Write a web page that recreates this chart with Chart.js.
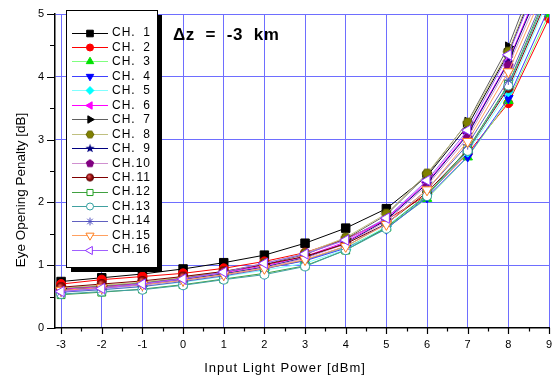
<!DOCTYPE html>
<html>
<head>
<meta charset="utf-8">
<script src="https://cdn.jsdelivr.net/npm/chart.js@4/dist/chart.umd.min.js"></script>
<style>
  html, body { margin: 0; padding: 0; background: #fff; }
  #c { display: block; }
</style>
</head>
<body>
<canvas id="c" width="558" height="377"></canvas>
<script>
// Input light power [dBm] for every measured point
const inputPower = [-3, -2, -1, 0, 1, 2, 3, 4, 5, 6, 7, 8, 9];

// Eye opening penalty [dB] per WDM channel
const ch1  = [0.74, 0.80, 0.86, 0.94, 1.04, 1.16, 1.35, 1.59, 1.90, 2.42, 3.22, 4.38, 6.00];
const ch2  = [0.70, 0.77, 0.82, 0.87, 0.95, 1.06, 1.20, 1.42, 1.72, 2.12, 2.78, 3.58, 4.93];
const ch3  = [0.62, 0.66, 0.71, 0.78, 0.86, 0.96, 1.08, 1.28, 1.60, 2.06, 2.72, 3.62, 5.00];
const ch4  = [0.60, 0.64, 0.69, 0.76, 0.85, 0.95, 1.07, 1.27, 1.58, 2.08, 2.73, 3.66, 5.10];
const ch5  = [0.57, 0.61, 0.66, 0.73, 0.82, 0.92, 1.03, 1.25, 1.62, 2.12, 2.80, 3.76, 5.25];
const ch6  = [0.62, 0.66, 0.71, 0.79, 0.88, 0.99, 1.14, 1.37, 1.74, 2.32, 3.10, 4.25, 5.80];
const ch7  = [0.63, 0.67, 0.72, 0.80, 0.89, 1.01, 1.17, 1.42, 1.80, 2.44, 3.28, 4.48, 6.15];
const ch8  = [0.64, 0.68, 0.73, 0.81, 0.90, 1.03, 1.19, 1.44, 1.82, 2.46, 3.27, 4.40, 6.05];
const ch9  = [0.60, 0.64, 0.69, 0.77, 0.86, 0.97, 1.12, 1.35, 1.72, 2.30, 3.08, 4.23, 5.75];
const ch10 = [0.59, 0.63, 0.68, 0.76, 0.85, 0.96, 1.11, 1.34, 1.70, 2.27, 3.03, 4.18, 5.65];
const ch11 = [0.65, 0.70, 0.75, 0.82, 0.90, 1.01, 1.14, 1.34, 1.66, 2.16, 2.83, 3.82, 5.30];
const ch12 = [0.53, 0.57, 0.62, 0.69, 0.78, 0.87, 0.99, 1.24, 1.60, 2.12, 2.85, 3.88, 5.40];
const ch13 = [0.54, 0.58, 0.61, 0.68, 0.77, 0.85, 0.98, 1.24, 1.58, 2.10, 2.82, 3.86, 5.35];
const ch14 = [0.57, 0.61, 0.66, 0.74, 0.83, 0.94, 1.08, 1.30, 1.66, 2.20, 2.92, 3.95, 5.45];
const ch15 = [0.60, 0.64, 0.69, 0.76, 0.85, 0.95, 1.09, 1.30, 1.65, 2.20, 2.97, 4.08, 5.55];
const ch16 = [0.58, 0.63, 0.70, 0.78, 0.89, 1.03, 1.18, 1.40, 1.75, 2.35, 3.15, 4.35, 5.95];

const channelNames = ['CH. 1', 'CH. 2', 'CH. 3', 'CH. 4', 'CH. 5', 'CH. 6', 'CH. 7', 'CH. 8',
                      'CH. 9', 'CH.10', 'CH.11', 'CH.12', 'CH.13', 'CH.14', 'CH.15', 'CH.16'];
const channels = [ch1, ch2, ch3, ch4, ch5, ch6, ch7, ch8, ch9, ch10, ch11, ch12, ch13, ch14, ch15, ch16];

const xTickValues = [-3, -2, -1, 0, 1, 2, 3, 4, 5, 6, 7, 8, 9];
const yTickValues = [0, 1, 2, 3, 4, 5];
const spanLabel = '\u0394z  =  -3  km';

// ---- custom marker bitmaps for shapes Chart.js has no built-in style for ----
function makeMarker(size, paint) {
  const cv = document.createElement('canvas');
  cv.width = size; cv.height = size;
  const c = cv.getContext('2d');
  c.translate(size / 2, size / 2);
  paint(c);
  return cv;
}
function polyPath(c, n, r, start) {
  c.beginPath();
  for (let k = 0; k < n; k++) {
    const a = start + k * 2 * Math.PI / n;
    const px = Math.cos(a) * r, py = Math.sin(a) * r;
    if (k === 0) c.moveTo(px, py); else c.lineTo(px, py);
  }
  c.closePath();
}
const hexMarker = makeMarker(12, c => {
  polyPath(c, 6, 5, 0);
  c.fillStyle = '#808000'; c.fill();
  c.strokeStyle = '#606000'; c.lineWidth = 1; c.stroke();
});
const starMarker = makeMarker(13, c => {
  c.beginPath();
  for (let k = 0; k < 10; k++) {
    const r = k % 2 === 0 ? 6 : 2.5;
    const a = -Math.PI / 2 + k * Math.PI / 5;
    const px = Math.cos(a) * r, py = Math.sin(a) * r;
    if (k === 0) c.moveTo(px, py); else c.lineTo(px, py);
  }
  c.closePath();
  c.fillStyle = '#000080'; c.fill();
});
const pentMarker = makeMarker(12, c => {
  polyPath(c, 5, 5, -Math.PI / 2);
  c.fillStyle = '#800080'; c.fill();
  c.strokeStyle = '#800080'; c.lineWidth = 1; c.stroke();
});
const ballMarker = makeMarker(12, c => {
  const g = c.createRadialGradient(-1.5, -1.5, 0.5, 0, 0, 5);
  g.addColorStop(0, '#e06060');
  g.addColorStop(0.5, '#a01010');
  g.addColorStop(1, '#500000');
  c.beginPath(); c.arc(0, 0, 5, 0, Math.PI * 2);
  c.fillStyle = g; c.fill();
});

// line colour, marker style, fill and edge for each channel
const looks = [
  { line: '#000000', style: 'rect',     rot: 0,   r: 6,   fill: '#000000', edge: '#000000' },
  { line: '#ff0000', style: 'circle',   rot: 0,   r: 4.5, fill: '#ff0000', edge: '#ff0000' },
  { line: '#80ff80', style: 'triangle', rot: 0,   r: 5.5, fill: '#00e000', edge: '#00e000' },
  { line: '#4040ff', style: 'triangle', rot: 180, r: 5.5, fill: '#0000ff', edge: '#0000ff' },
  { line: '#80ffff', style: 'rectRot',  rot: 0,   r: 5,   fill: '#00ffff', edge: '#00ffff' },
  { line: '#ff00ff', style: 'triangle', rot: 270, r: 5.5, fill: '#ff00ff', edge: '#ff00ff' },
  { line: '#606060', style: 'triangle', rot: 90,  r: 5.5, fill: '#000000', edge: '#000000' },
  { line: '#c0c080', style: hexMarker,  rot: 0,   r: 5,   fill: '#808000', edge: '#808000' },
  { line: '#000080', style: starMarker, rot: 0,   r: 5,   fill: '#000080', edge: '#000080' },
  { line: '#d090d0', style: pentMarker, rot: 0,   r: 5,   fill: '#800080', edge: '#800080' },
  { line: '#800000', style: ballMarker, rot: 0,   r: 5,   fill: '#800000', edge: '#800000' },
  { line: '#40a040', style: 'rect',     rot: 0,   r: 5.5, fill: '#ffffff', edge: '#20a020' },
  { line: '#40a0a0', style: 'circle',   rot: 0,   r: 4.5, fill: '#ffffff', edge: '#30a0a0' },
  { line: '#6060c0', style: 'star',     rot: 0,   r: 5,   fill: '#6060c0', edge: '#5050c0' },
  { line: '#ffa060', style: 'triangle', rot: 180, r: 6,   fill: '#ffffff', edge: '#ff8020' },
  { line: '#a060ff', style: 'triangle', rot: 270, r: 6,   fill: '#ffffff', edge: '#9030ff' }
];

const FONT = '"Liberation Sans", Arial, sans-serif';
const GRID_BLUE = '#6e6eff';

const datasets = channels.map((vals, i) => ({
  label: channelNames[i],
  data: vals.map((v, k) => ({ x: inputPower[k], y: v })),
  borderColor: looks[i].line,
  borderWidth: 1,
  pointStyle: looks[i].style,
  rotation: looks[i].rot,
  pointRadius: looks[i].r,
  pointBackgroundColor: looks[i].fill,
  pointBorderColor: looks[i].edge,
  pointBorderWidth: 1,
  tension: 0,
  order: channels.length - i
}));

// keep tick-label overhang from shifting the plot frame
function noScalePadding(s) {
  s.paddingLeft = 0; s.paddingRight = 0; s.paddingTop = 0; s.paddingBottom = 0;
}

// axis tick marks (major + half-step minor), titles, span label and the boxed legend
const decorations = {
  id: 'decorations',
  afterDraw(chart) {
    const { ctx, chartArea: a, scales } = chart;
    const xs = scales.x, ys = scales.y;
    ctx.save();
    ctx.strokeStyle = '#000';
    ctx.lineWidth = 1.2;
    ctx.beginPath();
    for (let v = -3; v <= 9.001; v += 0.5) {
      const px = Math.round(xs.getPixelForValue(v)) + 0.5;
      const major = Math.abs(v - Math.round(v)) < 1e-6;
      ctx.moveTo(px, a.bottom);
      ctx.lineTo(px, a.bottom + (major ? 6 : 3.5));
    }
    for (let v = 0; v <= 5.001; v += 0.5) {
      const py = Math.round(ys.getPixelForValue(v)) + 0.5;
      const major = Math.abs(v - Math.round(v)) < 1e-6;
      ctx.moveTo(a.left, py);
      ctx.lineTo(a.left - (major ? 8 : 5), py);
    }
    ctx.stroke();

    // axis titles
    ctx.fillStyle = '#000';
    ctx.font = '13px ' + FONT;
    ctx.letterSpacing = '1px';
    ctx.textAlign = 'center';
    ctx.textBaseline = 'middle';
    ctx.fillText('Input Light Power [dBm]', 285, 368);
    ctx.save();
    ctx.translate(21, 190);
    ctx.rotate(-Math.PI / 2);
    ctx.letterSpacing = '0px';
    ctx.font = '13.5px ' + FONT;
    ctx.fillText('Eye Opening Penalty [dB]', 0, 0);
    ctx.restore();

    // fiber span annotation
    ctx.font = 'bold 17px ' + FONT;
    ctx.letterSpacing = '0.6px';
    ctx.textAlign = 'left';
    ctx.fillText(spanLabel, 173, 35);

    // legend box with drop shadow
    const bx = 66, by = 10, bw = 91, bh = 257;
    ctx.fillStyle = '#000';
    ctx.fillRect(bx + 5, by + 5, bw, bh);
    ctx.fillStyle = '#fff';
    ctx.fillRect(bx, by, bw, bh);
    ctx.strokeStyle = '#000';
    ctx.lineWidth = 1;
    ctx.strokeRect(bx + 0.5, by + 0.5, bw, bh);

    const rowH = 14.47;
    looks.forEach((lk, i) => {
      const y = 32.5 + i * rowH;
      ctx.strokeStyle = lk.line;
      ctx.lineWidth = 1;
      ctx.beginPath();
      ctx.moveTo(72, Math.round(y) + 0.5);
      ctx.lineTo(108, Math.round(y) + 0.5);
      ctx.stroke();
      if (typeof lk.style === 'string') {
        ctx.fillStyle = lk.fill;
        ctx.strokeStyle = lk.edge;
        Chart.helpers.drawPoint(ctx, {
          pointStyle: lk.style, rotation: lk.rot, radius: lk.r * 0.78, borderWidth: 1
        }, 90, Math.round(y) + 0.5);
      } else {
        const w = lk.style.width * 0.8;
        ctx.drawImage(lk.style, 90 - w / 2, Math.round(y) + 0.5 - w / 2, w, w);
      }
      const name = channelNames[i];
      ctx.fillStyle = '#000';
      ctx.font = '12px ' + FONT;
      ctx.letterSpacing = '1px';
      ctx.textBaseline = 'middle';
      ctx.textAlign = 'left';
      ctx.fillText('CH.', 112, y + 0.5);
      ctx.textAlign = 'right';
      ctx.fillText(name.slice(3).trim(), 151, y + 0.5);
    });
    ctx.restore();
  }
};

new Chart(document.getElementById('c'), {
  type: 'line',
  data: { datasets },
  plugins: [decorations],
  options: {
    responsive: false,
    animation: false,
    events: [],
    layout: { padding: { left: 0, right: 9, top: 14, bottom: 0 } },
    plugins: { legend: { display: false }, tooltip: { enabled: false } },
    scales: {
      x: {
        type: 'linear',
        min: -3.15,
        max: 9,
        afterBuildTicks: s => { s.ticks = xTickValues.map(v => ({ value: v })); },
        afterFit: s => { s.height = 49; noScalePadding(s); },
        ticks: {
          font: { family: FONT, size: 11 },
          color: '#000',
          padding: 10,
          maxRotation: 0,
          autoSkip: false
        },
        grid: { color: GRID_BLUE, lineWidth: 1, drawTicks: false },
        border: { color: '#000', width: 1.5 }
      },
      y: {
        type: 'linear',
        min: 0,
        max: 5,
        afterBuildTicks: s => { s.ticks = yTickValues.map(v => ({ value: v })); },
        afterFit: s => { s.width = 55; noScalePadding(s); },
        ticks: {
          font: { family: FONT, size: 11 },
          color: '#000',
          padding: 11
        },
        grid: {
          color: c => (c.tick && c.tick.value === 0 ? 'rgba(0,0,0,0)' : GRID_BLUE),
          lineWidth: 1,
          drawTicks: false
        },
        border: { color: '#000', width: 1.5 }
      }
    }
  }
});
</script>
</body>
</html>
